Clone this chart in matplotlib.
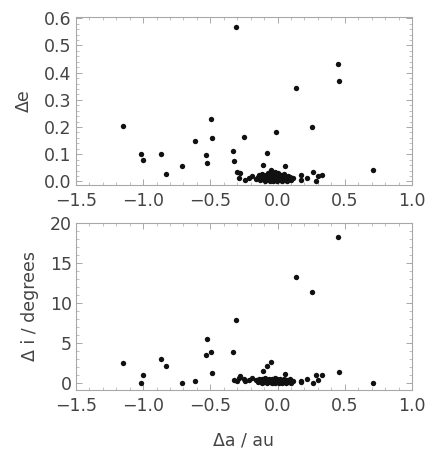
#imports:
import numpy as np
import matplotlib
matplotlib.use('Agg')
import matplotlib.pyplot as plt
from matplotlib import ticker

#data:
#isolated objects: delta a / au, delta e, delta i / degrees
deltaA = [-1.148, -1.016, -1.004, -0.870, -0.829, -0.708, -0.615, -0.534,
          -0.525, -0.498, -0.490, -0.332, -0.322, -0.310, -0.300, -0.280,
          -0.287, -0.252, -0.245, -0.211, -0.189, -0.106, -0.081, -0.049,
          -0.009, 0.057, 0.139, 0.174, 0.174, 0.216, 0.256, 0.263, 0.288,
          0.303, 0.328, 0.447, 0.459, 0.712]
deltaE = [0.204, 0.102, 0.080, 0.100, 0.027, 0.058, 0.148, 0.097,
          0.067, 0.231, 0.160, 0.110, 0.074, 0.567, 0.035, 0.032,
          0.012, 0.162, 0.006, 0.012, 0.021, 0.062, 0.105, 0.042,
          0.181, 0.055, 0.342, 0.023, 0.004, 0.012, 0.200, 0.033, 0.002,
          0.021, 0.023, 0.431, 0.371, 0.042]
deltaI = [2.5, 0.0, 1.0, 2.9, 2.1, 0.0, 0.2, 3.5,
          5.5, 3.8, 1.25, 3.8, 0.33, 7.8, 0.17, 0.8,
          0.6, 0.4, 0.2, 0.3, 0.55, 1.5, 2.1, 2.6,
          0.4, 1.1, 13.2, 0.17, 0.1, 0.4, 11.3, 0.0, 0.9,
          0.3, 0.95, 18.3, 1.3, 0.0]
#dense cluster near delta a = 0
clusterA = [-0.163, -0.148, -0.137, -0.131, -0.118, -0.112, -0.101, -0.096,
            -0.088, -0.079, -0.074, -0.066, -0.058, -0.053, -0.044, -0.039,
            -0.031, -0.027, -0.021, -0.016, -0.011, -0.006, -0.002, 0.003,
            0.008, 0.012, 0.018, 0.023, 0.029, 0.034, 0.041, 0.046,
            0.052, 0.061, 0.068, 0.077, 0.085, 0.094, 0.103, 0.112]
clusterE = [0.008, 0.015, 0.022, 0.004, 0.028, 0.010, 0.018, 0.002,
            0.025, 0.007, 0.031, 0.013, 0.003, 0.020, 0.009, 0.026,
            0.001, 0.016, 0.034, 0.006, 0.012, 0.022, 0.002, 0.030,
            0.008, 0.017, 0.004, 0.024, 0.011, 0.001, 0.019, 0.027,
            0.006, 0.014, 0.003, 0.021, 0.009, 0.016, 0.005, 0.012]
clusterI = [0.3, 0.1, 0.5, 0.2, 0.0, 0.4, 0.1, 0.6,
            0.2, 0.0, 0.3, 0.5, 0.1, 0.2, 0.0, 0.4,
            0.1, 0.3, 0.0, 0.6, 0.2, 0.1, 0.5, 0.3,
            0.0, 0.2, 0.5, 0.1, 0.3, 0.0, 0.2, 0.4,
            0.1, 0.0, 0.3, 0.2, 0.1, 0.4, 0.0, 0.2]

#define:
plt.rcParams['font.family'] = ['DejaVu Sans']
plt.rcParams['axes.unicode_minus'] = True
textColor = '#444444'
frameColor = '#a8a8a8'
dotColor = '#111111'
fontSize = 12.5

def styleAxes(ax, yMajor, yMinor):
    for spine in ax.spines.values():
        spine.set_color(frameColor)
        spine.set_linewidth(0.8)
    ax.set_xlim(-1.5, 1.0)
    ax.xaxis.set_major_locator(ticker.MultipleLocator(0.5))
    ax.xaxis.set_minor_locator(ticker.MultipleLocator(0.1))
    ax.yaxis.set_major_locator(ticker.MultipleLocator(yMajor))
    ax.yaxis.set_minor_locator(ticker.MultipleLocator(yMinor))
    ax.tick_params(which='both', direction='in', top=True, right=True,
                   color=frameColor, labelcolor=textColor,
                   labelsize=fontSize)
    ax.tick_params(which='major', length=4, width=0.7)
    ax.tick_params(which='minor', length=2, width=0.5)
    ax.tick_params(axis='x', which='major', pad=5)
    ax.tick_params(axis='y', which='major', pad=3)

#run:
if __name__ == '__main__':
    fig = plt.figure(figsize=(4.36, 4.70), dpi=100)
    axE = fig.add_axes([0.174, 0.606, 0.771, 0.358])
    axI = fig.add_axes([0.174, 0.170, 0.771, 0.356])

    allA = np.array(deltaA + clusterA)
    allE = np.array(deltaE + clusterE)
    allI = np.array(deltaI + clusterI)

    axE.scatter(allA, allE, s=15, color=dotColor, linewidths=0, zorder=3)
    axE.set_ylim(-0.014, 0.605)
    styleAxes(axE, 0.1, 0.02)
    axE.set_ylabel('Δe', color=textColor, fontsize=fontSize, labelpad=8)

    axI.scatter(allA, allI, s=15, color=dotColor, linewidths=0, zorder=3)
    axI.set_ylim(-0.95, 20.05)
    styleAxes(axI, 5, 1)
    axI.set_ylabel('Δ i / degrees', color=textColor, fontsize=fontSize,
                   labelpad=8)
    axI.set_xlabel('Δa / au', color=textColor, fontsize=fontSize,
                   labelpad=12)

    fig.savefig('out.png', dpi=100)
